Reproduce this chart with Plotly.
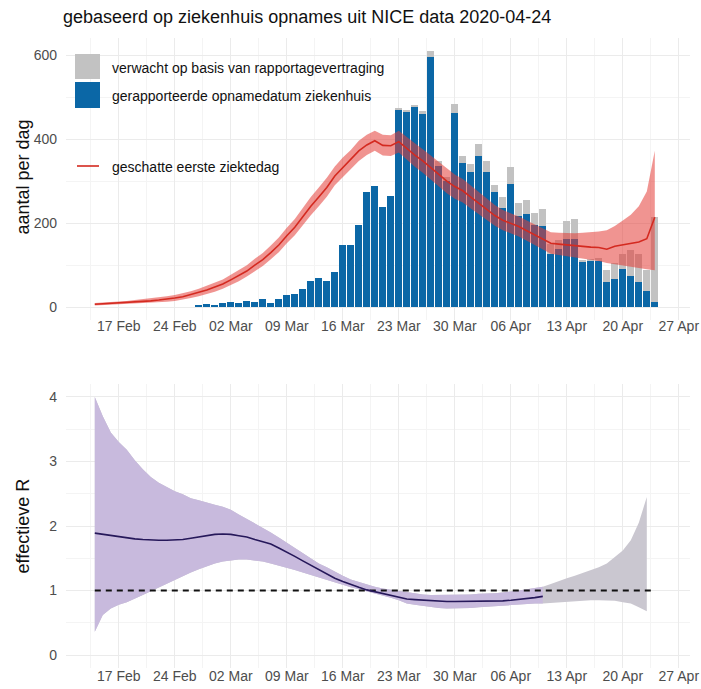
import plotly.graph_objects as go
import pandas as pd

# ---------------- data ----------------
line_dates = pd.date_range("2020-02-14", "2020-04-24", freq="D")   # 71 days
bar_dates = pd.date_range("2020-02-27", "2020-04-24", freq="D")    # 58 days

reported = [6, 7, 5, 11, 13, 11, 14, 13, 20, 11,
            20, 28, 31, 44, 62, 70, 62, 84, 149, 147,
            195, 273, 288, 238, 264, 470, 465, 477, 459, 596,
            337, 300, 463, 342, 321, 360, 321, 275, 236, 293,
            217, 221, 195, 194, 126, 139, 163, 163, 108, 111,
            111, 60, 68, 92, 74, 60, 39, 13]

expected_total = [6, 7, 5, 11, 13, 11, 14, 13, 20, 11,
                  20, 28, 31, 44, 62, 70, 62, 84, 149, 147,
                  195, 273, 288, 238, 264, 475, 468, 481, 467, 610,
                  347, 310, 483, 360, 341, 388, 348, 290, 262, 333,
                  247, 255, 225, 233, 150, 160, 205, 210, 113, 115,
                  116, 88, 104, 127, 135, 127, 88, 214]

onset_mid = [7, 8, 9, 10, 11, 12, 14, 15, 17, 19,
             22, 25, 30, 35, 41, 48, 55, 65, 75, 86,
             100, 113, 130, 148, 170, 190, 215, 240, 262, 285,
             312, 332, 350, 372, 386, 396, 385, 384, 394, 377,
             362, 348, 332, 315, 300, 287, 277, 262, 247, 232,
             218, 207, 200, 192, 182, 172, 162, 152, 150, 148,
             147, 145, 143, 142, 138, 145, 148, 152, 155, 163, 214]
onset_lo = [4, 5, 6, 6, 7, 8, 9, 10, 11, 13,
            15, 18, 22, 26, 31, 37, 44, 53, 62, 73,
            86, 98, 114, 131, 152, 171, 195, 219, 240, 263,
            290, 309, 327, 348, 362, 372, 361, 360, 368, 350,
            334, 320, 303, 286, 271, 258, 249, 235, 221, 207,
            194, 183, 176, 168, 158, 148, 138, 127, 124, 121,
            119, 116, 113, 110, 105, 102, 98, 95, 92, 90, 88]
onset_hi = [10, 11, 13, 14, 15, 17, 19, 21, 23, 26,
            29, 33, 38, 44, 51, 58, 66, 77, 88, 100,
            115, 129, 147, 166, 189, 210, 236, 262, 285, 308,
            335, 356, 374, 396, 410, 420, 410, 409, 420, 404,
            390, 376, 361, 344, 329, 316, 305, 290, 274, 258,
            243, 231, 224, 216, 206, 196, 187, 178, 177, 176,
            176, 177, 178, 180, 183, 193, 206, 220, 240, 275, 372]

r_mid = [1.89, 1.87, 1.85, 1.83, 1.81, 1.80, 1.79, 1.78, 1.78, 1.78,
         1.78, 1.79, 1.81, 1.83, 1.85, 1.87, 1.875, 1.87, 1.85, 1.83,
         1.79, 1.76, 1.72, 1.66, 1.60, 1.53, 1.46, 1.39, 1.32, 1.26,
         1.19, 1.14, 1.09, 1.05, 1.01, 0.98, 0.96, 0.93, 0.90, 0.87,
         0.86, 0.85, 0.84, 0.83, 0.83, 0.83, 0.83, 0.83, 0.83, 0.83,
         0.84, 0.84, 0.85, 0.86, 0.87, 0.89, 0.91]
r_hi = [4.00, 3.70, 3.45, 3.30, 3.18, 3.02, 2.88, 2.76, 2.67, 2.60,
        2.54, 2.49, 2.43, 2.40, 2.36, 2.33, 2.30, 2.25, 2.18, 2.11,
        2.05, 1.98, 1.90, 1.82, 1.74, 1.66, 1.58, 1.50, 1.42, 1.36,
        1.29, 1.23, 1.17, 1.13, 1.09, 1.06, 1.03, 1.01, 0.99, 0.97,
        0.95, 0.94, 0.93, 0.93, 0.93, 0.93, 0.94, 0.94, 0.95, 0.95,
        0.96, 0.97, 0.98, 1.00, 1.02, 1.04, 1.06, 1.10, 1.15, 1.19,
        1.23, 1.27, 1.31, 1.36, 1.42, 1.52, 1.62, 1.78, 2.05, 2.45]
r_lo = [0.36, 0.62, 0.72, 0.78, 0.82, 0.87, 0.93, 0.99, 1.05, 1.11,
        1.17, 1.23, 1.28, 1.33, 1.38, 1.42, 1.45, 1.47, 1.48, 1.48,
        1.47, 1.45, 1.42, 1.39, 1.36, 1.32, 1.28, 1.24, 1.20, 1.16,
        1.12, 1.08, 1.05, 1.02, 0.99, 0.95, 0.92, 0.89, 0.85, 0.80,
        0.78, 0.76, 0.74, 0.73, 0.72, 0.72, 0.72, 0.73, 0.74, 0.75,
        0.76, 0.77, 0.78, 0.79, 0.79, 0.80, 0.80, 0.81, 0.82, 0.83,
        0.84, 0.85, 0.85, 0.85, 0.85, 0.84, 0.82, 0.80, 0.74, 0.68]
r_reference = 1

title_text = "gebaseerd op ziekenhuis opnames uit NICE data 2020-04-24"
legend_labels = ["verwacht op basis van rapportagevertraging",
                 "gerapporteerde opnamedatum ziekenhuis",
                 "geschatte eerste ziektedag"]
y_titles = ["aantal per dag", "effectieve R"]

# ---------------- styling ----------------
W, H = 701, 689
ML, MR, MT, MB = 66, 11, 38, 21
BLUE = "#0b67a6"
GREY = "#c2c2c2"
RED = "#d42a20"
RED_FILL = "rgba(228,60,55,0.55)"
PURPLE_FILL = "#c8badd"
GREY_FILL = "#cac7d0"
NAVY = "#26185a"
FONT = "Liberation Sans"
DAY = 86400000

def px_x(p):
    return (p - ML) / (W - ML - MR)

def px_y(p):
    return (H - MB - p) / (H - MT - MB)

grey_extra = [t - r for t, r in zip(expected_total, reported)]
r_band_dates = line_dates[:len(r_hi)]
r_line_dates = line_dates[:len(r_mid)]

fig = go.Figure()

# top panel
fig.add_trace(go.Bar(x=bar_dates, y=reported, marker=dict(color=BLUE, line=dict(width=0)),
                     width=0.86 * DAY, xaxis="x", yaxis="y", showlegend=False,
                     name=legend_labels[1]))
fig.add_trace(go.Bar(x=bar_dates, y=grey_extra, marker=dict(color=GREY, line=dict(width=0)),
                     width=0.86 * DAY, xaxis="x", yaxis="y", showlegend=False,
                     name=legend_labels[0]))
fig.add_trace(go.Scatter(x=line_dates, y=onset_lo, mode="lines", line=dict(width=0),
                         xaxis="x", yaxis="y", showlegend=False, hoverinfo="skip"))
fig.add_trace(go.Scatter(x=line_dates, y=onset_hi, mode="lines", line=dict(width=0),
                         fill="tonexty", fillcolor=RED_FILL,
                         xaxis="x", yaxis="y", showlegend=False, hoverinfo="skip"))
fig.add_trace(go.Scatter(x=line_dates, y=onset_mid, mode="lines", line=dict(color=RED, width=1.6),
                         xaxis="x", yaxis="y", showlegend=False, name=legend_labels[2]))

# bottom panel
fig.add_trace(go.Scatter(x=r_band_dates, y=r_lo, mode="lines", line=dict(width=0),
                         xaxis="x2", yaxis="y2", showlegend=False, hoverinfo="skip"))
fig.add_trace(go.Scatter(x=r_band_dates, y=r_hi, mode="lines", line=dict(width=0),
                         fill="tonexty", fillcolor=GREY_FILL,
                         xaxis="x2", yaxis="y2", showlegend=False, hoverinfo="skip"))
fig.add_trace(go.Scatter(x=r_line_dates, y=r_lo[:len(r_mid)], mode="lines", line=dict(width=0),
                         xaxis="x2", yaxis="y2", showlegend=False, hoverinfo="skip"))
fig.add_trace(go.Scatter(x=r_line_dates, y=r_hi[:len(r_mid)], mode="lines", line=dict(width=0),
                         fill="tonexty", fillcolor=PURPLE_FILL,
                         xaxis="x2", yaxis="y2", showlegend=False, hoverinfo="skip"))
fig.add_trace(go.Scatter(x=[line_dates[0], line_dates[-1]], y=[r_reference, r_reference],
                         mode="lines", line=dict(color="#111111", width=2, dash="6px,5px"),
                         xaxis="x2", yaxis="y2", showlegend=False))
fig.add_trace(go.Scatter(x=r_line_dates, y=r_mid, mode="lines", line=dict(color=NAVY, width=1.6),
                         xaxis="x2", yaxis="y2", showlegend=False))

# axes
x_lo = line_dates[0] - pd.Timedelta(hours=3.6 * 24)
x_hi = line_dates[0] + pd.Timedelta(hours=74.4 * 24)
xcommon = dict(type="date", range=[x_lo, x_hi], tick0="2020-02-17", dtick=7 * DAY,
               tickformat="%d %b", showgrid=True, gridcolor="#ebebeb", gridwidth=1,
               zeroline=False, showline=False, ticks="", automargin=False,
               tickfont=dict(family=FONT, size=14, color="#4d4d4d"),
               minor=dict(showgrid=True, gridcolor="#f4f4f4", gridwidth=0.6,
                          tick0="2020-02-13 12:00", dtick=7 * DAY))
top_dom = [px_y(320), 1.0]
bot_dom = [0.0, px_y(384)]

fig.update_layout(
    width=W, height=H,
    margin=dict(l=ML, r=MR, t=MT, b=MB, autoexpand=False),
    paper_bgcolor="white", plot_bgcolor="white",
    barmode="stack", bargap=0, showlegend=False,
    font=dict(family=FONT, color="black"),
    title=dict(text=title_text, x=63 / W, xref="container", xanchor="left",
               y=1 - 17 / H, yref="container", yanchor="middle",
               font=dict(family=FONT, size=18, color="#111111")),
    xaxis=dict(anchor="y", domain=[0, 1], ticklabelstandoff=-4, **xcommon),
    xaxis2=dict(anchor="y2", domain=[0, 1], ticklabelstandoff=-2, **xcommon),
    yaxis=dict(anchor="x", domain=top_dom, range=[-30.5, 640.5], tickvals=[0, 200, 400, 600],
               showgrid=True, gridcolor="#ebebeb", zeroline=False, ticks="", automargin=False,
               tickfont=dict(family=FONT, size=14, color="#4d4d4d"), ticklabelstandoff=8,
               minor=dict(showgrid=True, gridcolor="#f4f4f4", gridwidth=0.6, tickvals=[100, 300, 500])),
    yaxis2=dict(anchor="x2", domain=bot_dom, range=[-0.2, 4.2], tickvals=[0, 1, 2, 3, 4],
                showgrid=True, gridcolor="#ebebeb", zeroline=False, ticks="", automargin=False,
                tickfont=dict(family=FONT, size=14, color="#4d4d4d"), ticklabelstandoff=8,
                minor=dict(showgrid=True, gridcolor="#f4f4f4", gridwidth=0.6,
                           tickvals=[0.5, 1.5, 2.5, 3.5])),
)

# y-axis titles
for txt, ycen in zip(y_titles, [177, 526]):
    fig.add_annotation(x=px_x(22.5), y=px_y(ycen), xref="paper", yref="paper", text=txt,
                       textangle=-90, showarrow=False, xanchor="center", yanchor="middle",
                       font=dict(family=FONT, size=18, color="#111111"))

# manual legend (top-left inside the top panel)
shapes = [
    dict(type="rect", xref="paper", yref="paper", x0=px_x(75), x1=px_x(100), y0=px_y(79), y1=px_y(54),
         fillcolor=GREY, line=dict(width=0)),
    dict(type="rect", xref="paper", yref="paper", x0=px_x(75), x1=px_x(100), y0=px_y(108), y1=px_y(82),
         fillcolor=BLUE, line=dict(width=0)),
    dict(type="line", xref="paper", yref="paper", x0=px_x(77), x1=px_x(99), y0=px_y(166), y1=px_y(166),
         line=dict(color=RED, width=1.6)),
]
fig.update_layout(shapes=shapes)
for label, ypix in zip(legend_labels, [68, 96, 167]):
    fig.add_annotation(x=px_x(110), y=px_y(ypix), xref="paper", yref="paper", text=label,
                       showarrow=False, xanchor="left", yanchor="middle",
                       font=dict(family=FONT, size=14, color="#111111"))

fig.write_html("out.html", config={"displayModeBar": False},
               post_script="document.body.style.margin='0';document.body.style.padding='0';"
                           "document.documentElement.style.margin='0';")
